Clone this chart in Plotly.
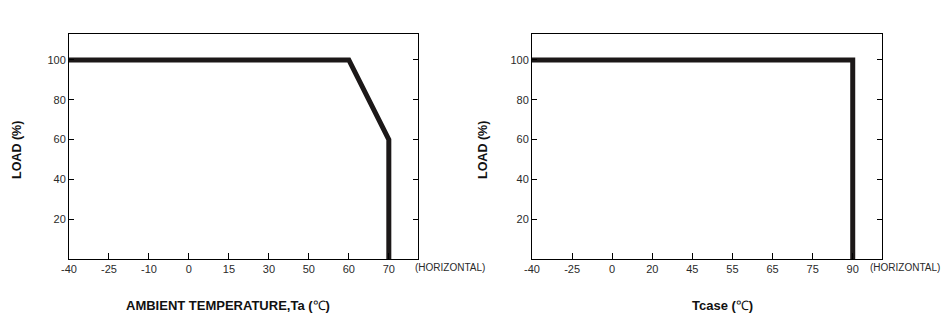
import plotly.graph_objects as go

# ---- data ----
left_ticks = ["-40", "-25", "-10", "0", "15", "30", "50", "60", "70"]
left_x = ["-40", "60", "70", "70"]
left_load = [100, 100, 60, 0]

right_ticks = ["-40", "-25", "0", "20", "45", "55", "65", "75", "90"]
right_x = ["-40", "90", "90"]
right_load = [100, 100, 0]

y_ticks = [20, 40, 60, 80, 100]

LINE = "#1c1818"
FONT = "Liberation Sans, Arial, sans-serif"
W, H = 948, 324

fig = go.Figure()
fig.add_trace(go.Scatter(x=left_x, y=left_load, mode="lines", xaxis="x", yaxis="y",
                         line=dict(color=LINE, width=5), showlegend=False, hoverinfo="skip"))
fig.add_trace(go.Scatter(x=right_x, y=right_load, mode="lines", xaxis="x2", yaxis="y2",
                         line=dict(color=LINE, width=5), showlegend=False, hoverinfo="skip"))

def xax(domain, cats, anchor):
    return dict(domain=domain, type="category", categoryorder="array", categoryarray=cats,
                range=[0, 8.73], showline=True, linecolor="black", linewidth=1, mirror=True,
                ticks="inside", ticklen=6, tickcolor="black", showgrid=False, zeroline=False,
                automargin=False,
                tickfont=dict(family=FONT, size=11, color="#2a2a2a"), anchor=anchor, fixedrange=True)

def yax(anchor):
    return dict(domain=[(H - 259) / H, (H - 34) / H], range=[0, 113], tickvals=y_ticks,
                showline=True, linecolor="black", linewidth=1, mirror="ticks",
                ticks="inside", ticklen=5, tickcolor="black", showgrid=False, zeroline=False,
                automargin=False,
                tickfont=dict(family=FONT, size=11, color="#2a2a2a"), anchor=anchor, fixedrange=True)

lx0, lx1 = 69 / W, 418 / W
rx0, rx1 = 532 / W, 882 / W

fig.update_layout(
    width=W, height=H, margin=dict(l=0, r=0, t=0, b=0, pad=0),
    paper_bgcolor="white", plot_bgcolor="white",
    xaxis=xax([lx0, lx1], left_ticks, "y"),
    yaxis=yax("x"),
    xaxis2=xax([rx0, rx1], right_ticks, "y2"),
    yaxis2=yax("x2"),
)

ty = (H - 267) / H
title_y = (H - 305) / H
ann = [
    dict(x=413 / W, y=ty, text="(HORIZONTAL)", xanchor="left"),
    dict(x=868 / W, y=ty, text="(HORIZONTAL)", xanchor="left"),
]
for a in ann:
    a.update(xref="paper", yref="paper", yanchor="middle", showarrow=False,
             font=dict(family=FONT, size=10, color="#2a2a2a"))
for xp in (17, 483):
    fig.add_annotation(xref="paper", yref="paper", x=xp / W, y=(H - 150) / H, text="<b>LOAD (%)</b>",
                       textangle=-90, xanchor="center", yanchor="middle", showarrow=False,
                       font=dict(family=FONT, size=12.5, color="#111"))
fig.add_annotation(xref="paper", yref="paper", x=228 / W, y=title_y,
                   text="<b>AMBIENT TEMPERATURE,Ta (</b>℃<b>)</b>", xanchor="center", yanchor="middle",
                   showarrow=False, font=dict(family=FONT, size=13, color="#111"))
fig.add_annotation(xref="paper", yref="paper", x=722 / W, y=title_y,
                   text="<b>Tcase (</b>℃<b>)</b>", xanchor="center", yanchor="middle",
                   showarrow=False, font=dict(family=FONT, size=13, color="#111"))
for a in ann:
    fig.add_annotation(**a)

fig.write_html("out.html")
